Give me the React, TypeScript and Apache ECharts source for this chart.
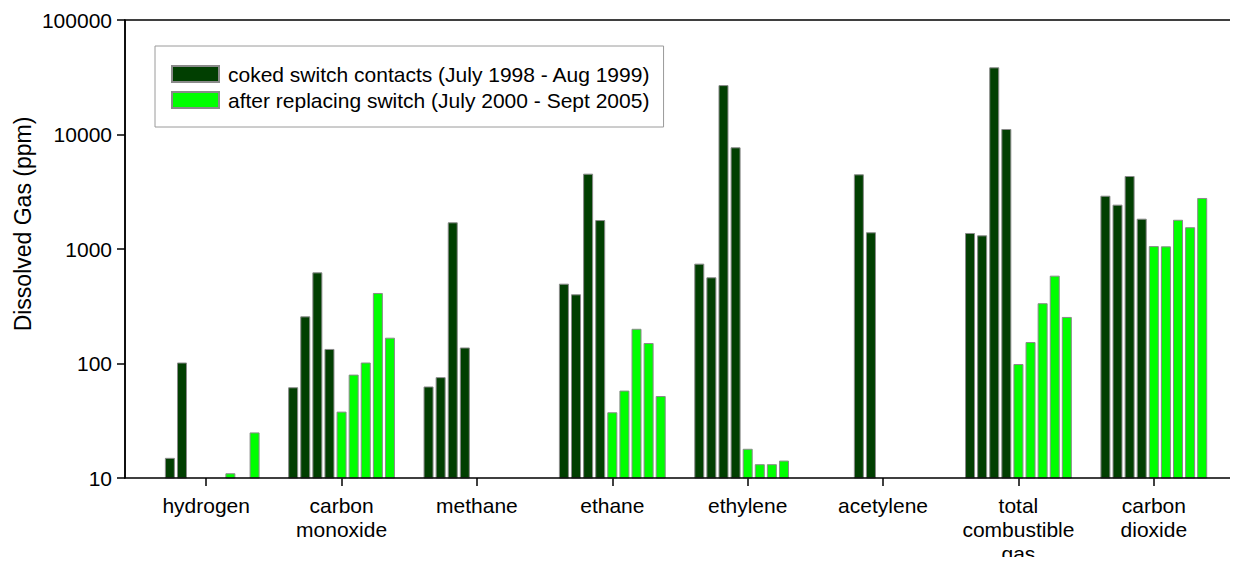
import React, { useEffect, useRef } from "react";
import * as echarts from "echarts";

const categories = [
  "hydrogen",
  "carbon\nmonoxide",
  "methane",
  "ethane",
  "ethylene",
  "acetylene",
  "total\ncombustible\ngas",
  "carbon\ndioxide",
];

const darkName = "coked switch contacts (July 1998 - Aug 1999)";
const lightName = "after replacing switch (July 2000 - Sept 2005)";

// coked switch contacts: 4 samples per gas (null = not plotted)
const coked1 = [null, 62, 63, 498, 745, null, 1380, 2920];
const coked2 = [15, 258, 76, 402, 566, null, 1316, 2440];
const coked3 = [102, 625, 1710, 4550, 27000, 4490, 38600, 4340];
const coked4 = [null, 134, 138, 1790, 7730, 1400, 11170, 1840];

// after replacing switch: 5 samples per gas
const after1 = [null, 38, null, 37.5, 18, null, 99, 1060];
const after2 = [null, 80, null, 58, 13.2, null, 154, 1055];
const after3 = [11, 102, null, 201, 13.2, null, 336, 1800];
const after4 = [null, 413, null, 151, 14.2, null, 585, 1550];
const after5 = [25, 168, null, 52, null, null, 255, 2790];

const yTicks = [10, 100, 1000, 10000, 100000];

const FONT = "'Liberation Sans', Arial, Helvetica, sans-serif";
const DARK = "#013f01";
const LIGHT = "#00ff00";

export default function App() {
  const ref = useRef<HTMLDivElement>(null);
  useEffect(() => {
    if (!ref.current) return;
    const chart = echarts.init(ref.current, null, { renderer: "svg" });
    const mk = (name: string, data: (number | null)[], color: string) => ({
      name,
      type: "bar",
      data,
      barWidth: 10,
      barGap: "21%",
      itemStyle: { color, borderColor: "#8a8a8a", borderWidth: 1 },
    });
    chart.setOption({
      animation: false,
      backgroundColor: "#ffffff",
      textStyle: { fontFamily: FONT },
      grid: {
        left: 138.5,
        right: 16.5,
        top: 20,
        bottom: 87,
        containLabel: false,
        outerBoundsMode: "none",
      },
      legend: {
        data: [darkName, lightName],
        orient: "vertical",
        left: 155,
        top: 46,
        padding: [16, 13, 15, 16],
        itemWidth: 47,
        itemHeight: 16,
        itemGap: 2,
        borderColor: "#9a9a9a",
        borderWidth: 1,
        icon: "rect",
        textStyle: {
          fontFamily: FONT,
          fontSize: 21,
          lineHeight: 24,
          color: "#000",
          padding: [0, 0, 0, 4],
        },
      },
      xAxis: {
        type: "category",
        data: categories,
        axisLine: { show: false },
        axisTick: {
          show: true,
          alignWithLabel: true,
          length: 8,
          lineStyle: { color: "#000", width: 1.5 },
        },
        axisLabel: {
          color: "#000",
          fontSize: 21,
          lineHeight: 24,
          fontFamily: FONT,
          margin: 15,
          interval: 0,
        },
      },
      yAxis: {
        type: "log",
        logBase: 10,
        min: yTicks[0],
        max: yTicks[yTicks.length - 1],
        offset: 13.5,
        axisLine: { show: true, lineStyle: { color: "#000", width: 1.5 } },
        axisTick: { show: true, length: 8, lineStyle: { color: "#000", width: 1.5 } },
        splitLine: { show: false },
        minorTick: { show: false },
        axisLabel: {
          color: "#000",
          fontSize: 21,
          fontFamily: FONT,
          margin: 13,
          formatter: (v: number) => String(Math.round(v)),
        },
      },
      graphic: [
        {
          type: "rect",
          shape: { x: 125, y: 20, width: 1110, height: 458 },
          style: { fill: "none", stroke: "#000", lineWidth: 1.5 },
          silent: true,
          z: 10,
        },
        {
          type: "text",
          x: 23,
          y: 224,
          rotation: Math.PI / 2,
          style: {
            text: "Dissolved Gas (ppm)",
            font: `23px ${FONT}`,
            fill: "#000",
            textAlign: "center",
            textVerticalAlign: "middle",
          },
        },
      ],
      series: [
        mk(darkName, coked1, DARK),
        mk(darkName, coked2, DARK),
        mk(darkName, coked3, DARK),
        mk(darkName, coked4, DARK),
        mk(lightName, after1, LIGHT),
        mk(lightName, after2, LIGHT),
        mk(lightName, after3, LIGHT),
        mk(lightName, after4, LIGHT),
        mk(lightName, after5, LIGHT),
      ],
    });
    return () => chart.dispose();
  }, []);
  return <div ref={ref} style={{ width: 1238, height: 565, margin: -8 }} />;
}
